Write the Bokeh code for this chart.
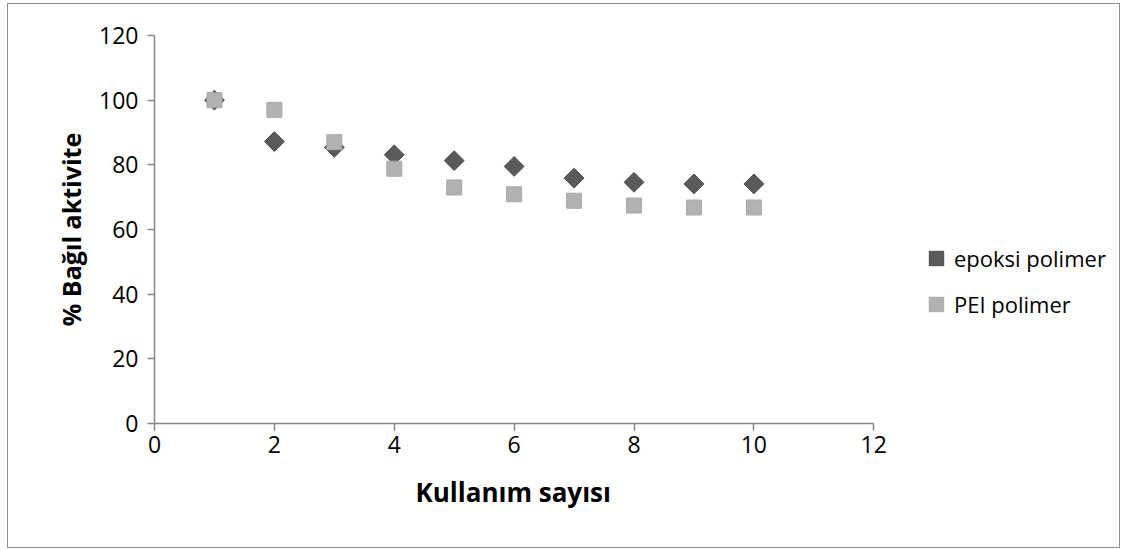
import math

from bokeh.embed import file_html
from bokeh.models import ColumnDataSource, FixedTicker, Legend, LegendItem, Range1d, Title
from bokeh.plotting import figure
from bokeh.resources import INLINE

# Reuse count and relative activity (%) for the two immobilization supports
kullanim = [1, 2, 3, 4, 5, 6, 7, 8, 9, 10]
epoksi = [100.0, 87.2, 85.4, 83.1, 81.3, 79.5, 75.9, 74.6, 74.1, 74.1]
pei = [100.0, 97.0, 87.0, 78.8, 73.0, 70.9, 68.9, 67.4, 66.8, 66.8]

x_ticks = [0, 2, 4, 6, 8, 10, 12]
y_ticks = [0, 20, 40, 60, 80, 100, 120]

FONT = "Open Sans"
AXIS_GREY = "#868686"

# The frame runs past x = 12 so the legend can sit inside it; the x axis
# itself is bounded to 0..12 and its title is set under that part only.
p = figure(
    width=1113,
    height=545,
    output_backend="svg",
    toolbar_location=None,
    x_range=Range1d(0, 16),
    y_range=Range1d(0, 120),
    min_border_left=146,
    min_border_right=8,
    min_border_top=31,
    min_border_bottom=126,
    background_fill_color="white",
    border_fill_color="white",
    outline_line_color=None,
    styles={"margin-left": "7px", "margin-top": "3px", "border": "1px solid #8c8c8c"},
)
p.grid.visible = False

for ax in (p.xaxis[0], p.yaxis[0]):
    ax.axis_line_color = AXIS_GREY
    ax.axis_line_width = 1.5
    ax.major_tick_line_color = AXIS_GREY
    ax.major_tick_line_width = 1.5
    ax.major_tick_in = 0
    ax.major_tick_out = 7
    ax.minor_tick_line_color = None
    ax.major_label_text_font = FONT
    ax.major_label_text_font_size = "23px"
    ax.major_label_text_color = "black"

p.xaxis.bounds = (0, 12)
p.xaxis.ticker = FixedTicker(ticks=x_ticks)
p.yaxis.ticker = FixedTicker(ticks=y_ticks)
p.xaxis.major_label_standoff = 5
p.yaxis.major_label_standoff = 9

p.yaxis.axis_label = "% Bağıl aktivite"
p.yaxis.axis_label_text_font = FONT
p.yaxis.axis_label_text_font_size = "25px"
p.yaxis.axis_label_text_font_style = "bold"
p.yaxis.axis_label_text_color = "black"
p.yaxis.axis_label_standoff = 8

x_title = Title(
    text="Kullanım sayısı",
    align="left",
    offset=261,
    standoff=33,
    text_font=FONT,
    text_font_size="26px",
    text_font_style="bold",
    text_color="black",
)
p.add_layout(x_title, "below")

src_e = ColumnDataSource(dict(x=kullanim, y=epoksi))
src_p = ColumnDataSource(dict(x=kullanim, y=pei))

r_e = p.scatter(
    "x", "y", source=src_e, marker="square", angle=math.pi / 4, size=14,
    fill_color="#5a5a5a", line_color="#4a4a4a", line_width=1,
)
r_p = p.scatter(
    "x", "y", source=src_p, marker="square", size=15,
    fill_color="#b2b2b2", line_color="#a8a8a8", line_width=1,
)

legend = Legend(
    items=[
        LegendItem(label="epoksi polimer", renderers=[r_e]),
        LegendItem(label="PEI polimer", renderers=[r_p]),
    ],
    location=(764, 101),
    padding=0,
    margin=0,
    spacing=10,
    glyph_width=36,
    glyph_height=36,
    label_standoff=0,
    label_height=36,
    label_text_font=FONT,
    label_text_font_size="22px",
    label_text_color="black",
    border_line_color=None,
    background_fill_alpha=0,
)
p.add_layout(legend, "center")

open("out.html", "w").write(file_html(p, INLINE))
